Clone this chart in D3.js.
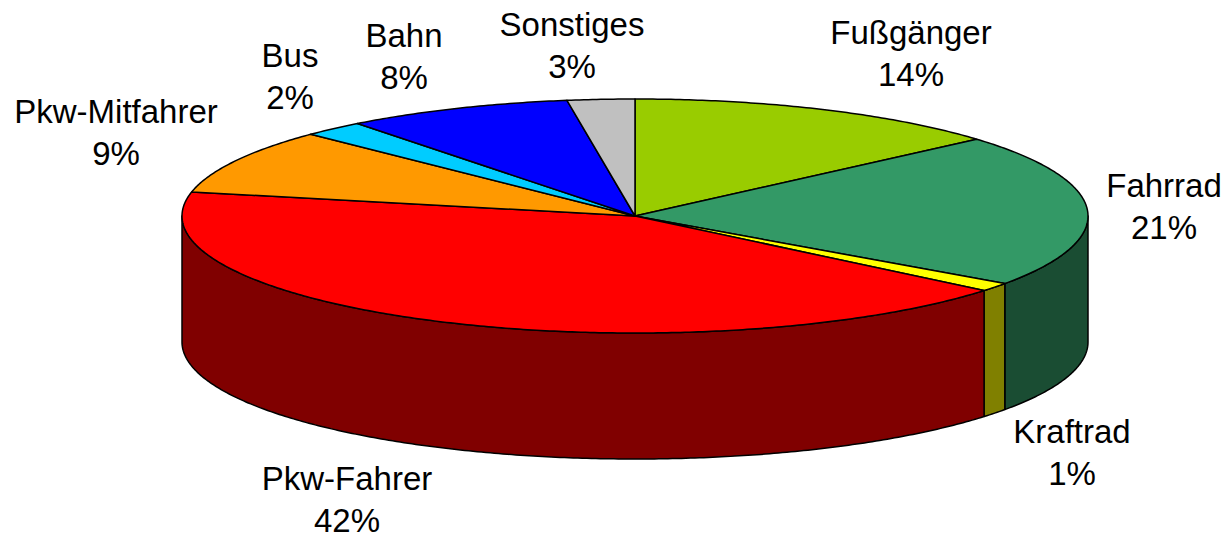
<!DOCTYPE html>
<html>
<head>
<meta charset="utf-8">
<script src="https://cdn.jsdelivr.net/npm/d3@7/dist/d3.min.js"></script>
<style>
  html, body { margin: 0; padding: 0; background: #fff; }
  svg { display: block; }
  text { font-family: "Liberation Sans", Arial, Helvetica, sans-serif; fill: #000; }
</style>
</head>
<body>
<svg id="chart" width="1229" height="539"></svg>
<script>
// ---- data ----
const categories = ["Fußgänger", "Fahrrad", "Kraftrad", "Pkw-Fahrer", "Pkw-Mitfahrer", "Bus", "Bahn", "Sonstiges"];
const values = [13.6, 21.2, 1.2, 42.3, 9.0, 2.2, 8.1, 2.4];
const valueLabels = ["14%", "21%", "1%", "42%", "9%", "2%", "8%", "3%"];
const colors = ["#99CC00", "#339966", "#FFFF00", "#FF0000", "#FF9900", "#00CCFF", "#0000FF", "#C0C0C0"];

// ---- layout ----
const W = 1229, H = 539;
const cx = 635, cy = 216, rx = 453, ry = 117, depth = 126;
const labelPos = [
  [911, 44], [1164, 197], [1072, 443], [347, 490],
  [116, 123], [290, 67], [404, 47], [572, 36]
];
const lineGap = 42;

const svg = d3.select("#chart");

const pie = d3.pie().sort(null).value(d => d.value).startAngle(0).endAngle(2 * Math.PI);
const data = categories.map((c, i) => ({ name: c, value: values[i], label: valueLabels[i], i }));
const arcs = pie(data);

const color = d3.scaleOrdinal().domain(categories).range(colors);
const sideColor = c => { const r = d3.rgb(color(c)); return d3.rgb(r.r / 2, r.g / 2, r.b / 2).toString(); };

function pt(a, dy = 0) {
  return [cx + rx * Math.sin(a), cy - ry * Math.cos(a) + dy];
}
function arcPoints(a0, a1, dy = 0) {
  const n = Math.max(2, Math.ceil(Math.abs(a1 - a0) / 0.01));
  const pts = [];
  for (let k = 0; k <= n; k++) pts.push(pt(a0 + (a1 - a0) * k / n, dy));
  return pts;
}
const line = d3.line();

const gSide = svg.append("g");
const gTop = svg.append("g");

// side walls (visible front half: angles PI/2 .. 3PI/2)
arcs.forEach(d => {
  const a0 = Math.max(d.startAngle, Math.PI / 2);
  const a1 = Math.min(d.endAngle, 3 * Math.PI / 2);
  if (a1 <= a0) return;
  const top = arcPoints(a0, a1, 0);
  const bot = arcPoints(a1, a0, depth);
  gSide.append("path")
    .attr("d", line(top.concat(bot)) + "Z")
    .attr("fill", sideColor(d.data.name))
    .attr("stroke", "#000")
    .attr("stroke-width", 1.5)
    .attr("stroke-linejoin", "round");
});

// top faces
arcs.forEach(d => {
  const pts = [[cx, cy]].concat(arcPoints(d.startAngle, d.endAngle, 0));
  gTop.append("path")
    .attr("d", line(pts) + "Z")
    .attr("fill", color(d.data.name))
    .attr("stroke", "#000")
    .attr("stroke-width", 1.5)
    .attr("stroke-linejoin", "round");
});

// labels
const gLab = svg.append("g");
arcs.forEach((d, i) => {
  const [x, y] = labelPos[i];
  const t = gLab.append("text")
    .attr("text-anchor", "middle")
    .attr("font-size", 33)
    .attr("x", x).attr("y", y);
  t.append("tspan").attr("x", x).attr("y", y).text(d.data.name);
  t.append("tspan").attr("x", x).attr("y", y + lineGap).text(d.data.label);
});
</script>
</body>
</html>
